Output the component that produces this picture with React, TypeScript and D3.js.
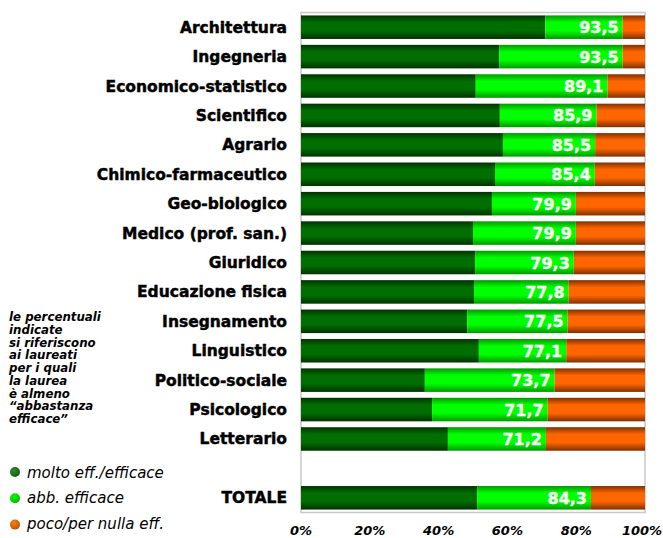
import React from "react";
import * as d3 from "d3";

const categories = [
  "Architettura", "Ingegneria", "Economico-statistico", "Scientifico", "Agrario",
  "Chimico-farmaceutico", "Geo-biologico", "Medico (prof. san.)", "Giuridico",
  "Educazione fisica", "Insegnamento", "Linguistico", "Politico-sociale",
  "Psicologico", "Letterario", "", "TOTALE",
];
const molto = [71.0, 57.6, 50.8, 57.8, 58.7, 56.4, 55.5, 50.0, 50.6, 50.3, 48.3, 51.7, 36.0, 38.1, 42.7, null, 51.2];
const almeno = [93.5, 93.5, 89.1, 85.9, 85.5, 85.4, 79.9, 79.9, 79.3, 77.8, 77.5, 77.1, 73.7, 71.7, 71.2, null, 84.3];
const ticks = [0, 20, 40, 60, 80, 100];
const legendLabels = ["molto eff./efficace", "abb. efficace", "poco/per nulla eff."];
const noteLines = ["le percentuali", "indicate", "si riferiscono", "ai laureati", "per i quali", "la laurea", "è almeno", "\u201Cabbastanza", "efficace\u201D"];

const W = 663, H = 538;
const left = 301, right = 645, top = 12.5, bottom = 512.5;

export default function App() {
  const x = d3.scaleLinear().domain([0, 100]).range([left, right]);
  const y = d3.scaleBand<number>().domain(d3.range(categories.length)).range([top, bottom]).paddingInner(0.2).paddingOuter(0.1);
  const fmt = (v: number) => v.toFixed(1).replace(".", ",");
  const grads = [
    { id: "gDark", edge: "#003300", mid: "#006e00" },
    { id: "gLight", edge: "#009900", mid: "#00ff00" },
    { id: "gOrange", edge: "#803000", mid: "#ff6600" },
  ];
  const legendCol = ["#1f6b1f", "#00dd00", "#e0600a"];
  return (
    <svg width={W} height={H} style={{ position: "absolute", left: 0, top: 0, fontFamily: "'DejaVu Sans', Verdana, sans-serif" }}>
      <defs>
        {grads.map(g => (
          <linearGradient key={g.id} id={g.id} x1="0" y1="0" x2="0" y2="1">
            <stop offset="0" stopColor={g.edge} />
            <stop offset="0.3" stopColor={g.mid} />
            <stop offset="0.65" stopColor={g.mid} />
            <stop offset="1" stopColor={g.edge} />
          </linearGradient>
        ))}
        {legendCol.map((c, i) => (
          <radialGradient key={i} id={"lg" + i} cx="0.4" cy="0.35" r="0.7">
            <stop offset="0" stopColor={d3.color(c)!.brighter(0.8).toString()} />
            <stop offset="1" stopColor={d3.color(c)!.darker(0.6).toString()} />
          </radialGradient>
        ))}
      </defs>
      <rect x={left} y={top} width={right - left} height={bottom - top} fill="white" stroke="#c8c8c8" strokeWidth={1.5} />
      {categories.map((c, i) => {
        const yy = y(i)!;
        const bh = y.bandwidth();
        const m = molto[i], a = almeno[i];
        return (
          <g key={i}>
            <text x={287} y={yy + bh / 2 + 5.5} textAnchor="end" fontWeight="bold" fontSize={15.5} fill="#000" stroke="#000" strokeWidth={0.45}>{c}</text>
            {m != null && a != null && (
              <>
                <rect x={x(0)} y={yy} width={x(m) - x(0)} height={bh} fill="url(#gDark)" />
                <rect x={x(m)} y={yy} width={x(a) - x(m)} height={bh} fill="url(#gLight)" />
                <rect x={x(a)} y={yy} width={x(100) - x(a)} height={bh} fill="url(#gOrange)" />
                <text x={x(a) - 4} y={yy + bh / 2 + 6} textAnchor="end" fontWeight="bold" fontSize={16} fill="#fff" stroke="#fff" strokeWidth={0.3}>{fmt(a)}</text>
              </>
            )}
          </g>
        );
      })}
      {ticks.map(t => (
        <text key={t} x={x(t) - (t === 100 ? 3 : 0)} y={535} textAnchor="middle" fontStyle="italic" fontWeight="bold" fontSize={13} fill="#000">{t}%</text>
      ))}
      {noteLines.map((l, i) => (
        <text key={i} x={9} y={321 + i * 12.75} fontStyle="italic" fontWeight="bold" fontSize={11.8} fill="#000">{l}</text>
      ))}
      {legendLabels.map((l, i) => (
        <g key={i}>
          <circle cx={15} cy={472 + i * 26.3} r={5} fill={"url(#lg" + i + ")"} />
          <text x={27} y={477.5 + i * 25.5} fontStyle="italic" fontSize={15} fill="#000">{l}</text>
        </g>
      ))}
    </svg>
  );
}
